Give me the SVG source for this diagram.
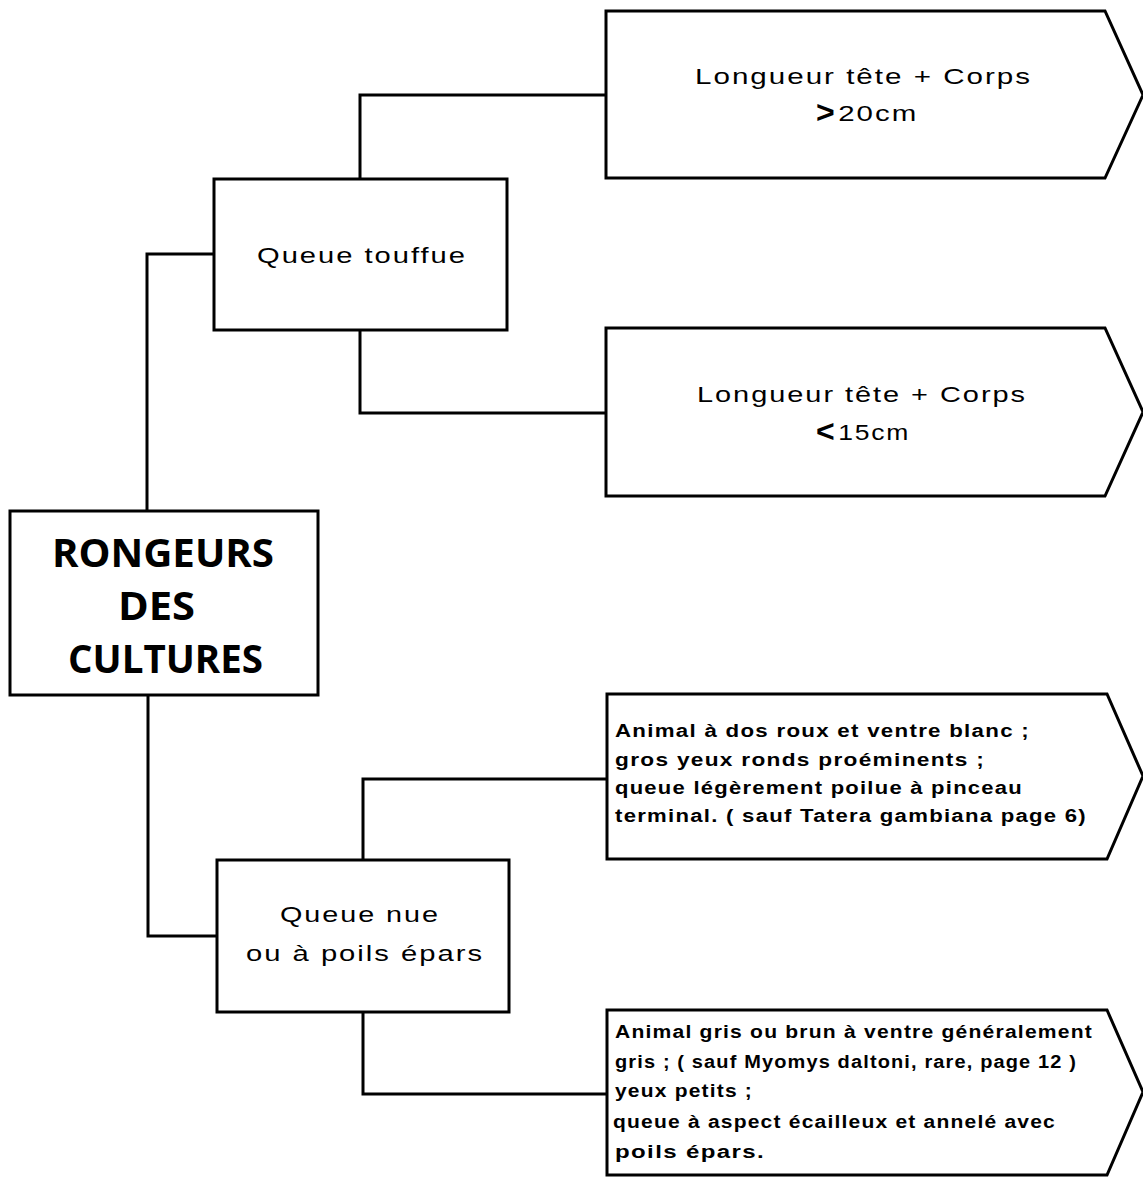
<svg xmlns="http://www.w3.org/2000/svg" width="1143" height="1177" viewBox="0 0 1143 1177">
<style>
.box{fill:#fff;stroke:#000;stroke-width:3}
.ln{fill:none;stroke:#000;stroke-width:3}
.t{font-family:"Liberation Sans",Arial,sans-serif;font-size:22px;letter-spacing:1.5px;fill:#000}
.tb{font-family:"Liberation Sans",Arial,sans-serif;font-size:17.5px;font-weight:bold;letter-spacing:1px;fill:#000}
.root{font-family:"Open Sans","Liberation Sans",sans-serif;font-size:40px;font-weight:bold;fill:#000}
</style>
<rect width="1143" height="1177" fill="#fff"/>
<g id="connectors">
<polyline class="ln" points="147,511 147,254 214,254"/>
<polyline class="ln" points="360,179 360,95 606,95"/>
<polyline class="ln" points="360,330 360,413 606,413"/>
<polyline class="ln" points="148,695 148,936 217,936"/>
<polyline class="ln" points="363,860 363,779 607,779"/>
<polyline class="ln" points="363,1012 363,1094 607,1094"/>
</g>
<g id="root">
<rect class="box" x="10" y="511" width="308" height="184"/>
<text class="root" x="52" y="567" textLength="222" lengthAdjust="spacingAndGlyphs">RONGEURS</text>
<text class="root" x="118" y="620" textLength="77" lengthAdjust="spacingAndGlyphs">DES</text>
<text class="root" x="68" y="673" textLength="195" lengthAdjust="spacingAndGlyphs">CULTURES</text>
</g>
<g id="queue-touffue">
<rect class="box" x="214" y="179" width="293" height="151"/>
<text class="t" x="257" y="263" textLength="210" lengthAdjust="spacingAndGlyphs">Queue touffue</text>
</g>
<g id="queue-nue">
<rect class="box" x="217" y="860" width="292" height="152"/>
<text class="t" x="280" y="922" textLength="160" lengthAdjust="spacingAndGlyphs">Queue nue</text>
<text class="t" x="246" y="961" textLength="238" lengthAdjust="spacingAndGlyphs">ou à poils épars</text>
</g>
<g id="sup20">
<polygon class="box" points="606,11 1105,11 1143,95 1105,178 606,178"/>
<text class="t" x="695" y="84" textLength="337" lengthAdjust="spacingAndGlyphs">Longueur tête + Corps</text>
<text class="t" x="816" y="121"><tspan font-size="32" font-weight="bold" dy="2">&gt;</tspan><tspan dy="-2" dx="2" textLength="80" lengthAdjust="spacingAndGlyphs">20cm</tspan></text>
</g>
<g id="inf15">
<polygon class="box" points="606,328 1105,328 1143,412 1105,496 606,496"/>
<text class="t" x="697" y="402" textLength="330" lengthAdjust="spacingAndGlyphs">Longueur tête + Corps</text>
<text class="t" x="816" y="440"><tspan font-size="32" font-weight="bold" dy="2">&lt;</tspan><tspan dy="-2" dx="2" textLength="72" lengthAdjust="spacingAndGlyphs">15cm</tspan></text>
</g>
<g id="dos-roux">
<polygon class="box" points="607,694 1107,694 1143,776 1107,859 607,859"/>
<text class="tb" x="615" y="737" textLength="415" lengthAdjust="spacingAndGlyphs">Animal à dos roux et ventre blanc ;</text>
<text class="tb" x="615" y="766" textLength="370" lengthAdjust="spacingAndGlyphs">gros yeux ronds proéminents ;</text>
<text class="tb" x="615" y="794" textLength="408" lengthAdjust="spacingAndGlyphs">queue légèrement poilue à pinceau</text>
<text class="tb" x="615" y="822" textLength="472" lengthAdjust="spacingAndGlyphs">terminal. ( sauf Tatera gambiana page 6)</text>
</g>
<g id="gris-brun">
<polygon class="box" points="607,1010 1107,1010 1143,1092 1107,1175 607,1175"/>
<text class="tb" x="615" y="1038" textLength="478" lengthAdjust="spacingAndGlyphs">Animal gris ou brun à ventre généralement</text>
<text class="tb" x="615" y="1068" textLength="462" lengthAdjust="spacingAndGlyphs">gris ; ( sauf Myomys daltoni, rare, page 12 )</text>
<text class="tb" x="615" y="1097" textLength="138" lengthAdjust="spacingAndGlyphs">yeux petits ;</text>
<text class="tb" x="613" y="1128" textLength="443" lengthAdjust="spacingAndGlyphs">queue à aspect écailleux et annelé avec</text>
<text class="tb" x="615" y="1158" textLength="150" lengthAdjust="spacingAndGlyphs">poils épars.</text>
</g>
</svg>
